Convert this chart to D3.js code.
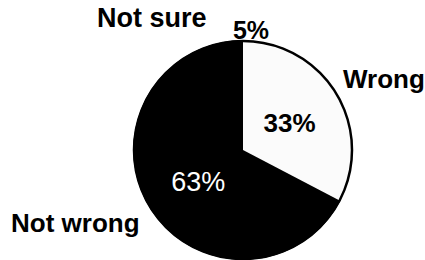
<!DOCTYPE html>
<html>
<head>
  <meta charset="utf-8">
  <title>Not wrong / Wrong / Not sure</title>
  <script src="https://d3js.org/d3.v7.min.js"></script>
  <style>
    body { margin: 0; background: #fff; }
    svg { display: block; }
    text { font-family: "Liberation Sans", Arial, Helvetica, sans-serif; }
  </style>
</head>
<body>
  <div id="chart"></div>
  <script>
    // data (values add to 101 because of rounding)
    var categories = ["Wrong", "Not wrong", "Not sure"];
    var values = [33, 63, 5];
    var valueLabels = ["33%", "63%", "5%"];

    var width = 425, height = 260;
    var cx = 243, cy = 150, radius = 109;

    var svg = d3.select("#chart")
      .append("svg")
        .attr("width", width)
        .attr("height", height);

    var g = svg.append("g")
        .attr("transform", "translate(" + cx + "," + cy + ")");

    var color = d3.scaleOrdinal()
      .domain(categories)
      .range(["#fbfbfb", "#000000", "#000000"]);

    var pie = d3.pie().sort(null).value(function(d) { return d.value; });
    var arc = d3.arc().innerRadius(0).outerRadius(radius);

    var rows = categories.map(function(c, i) {
      return { name: c, value: values[i], label: valueLabels[i] };
    });
    var arcs = pie(rows);

    // slices - black ones first with a stroke so no seam shows, light one on top
    g.selectAll("path.slice")
      .data(arcs.slice().reverse())
      .enter()
      .append("path")
        .attr("class", "slice")
        .attr("d", arc)
        .attr("fill", function(d) { return color(d.data.name); })
        .attr("stroke", function(d) { return d.data.name == "Wrong" ? "none" : "#000"; })
        .attr("stroke-width", 1.5);

    // outer rim
    g.append("circle")
      .attr("r", radius)
      .attr("fill", "none")
      .attr("stroke", "#000")
      .attr("stroke-width", 2.5);

    // percentages inside the two big slices
    g.append("text")
      .attr("x", arc.centroid(arcs[0])[0])
      .attr("y", arc.centroid(arcs[0])[1] + 10)
      .attr("text-anchor", "middle")
      .attr("font-size", 26)
      .attr("font-weight", "bold")
      .attr("fill", "#000")
      .text(arcs[0].data.label);

    g.append("text")
      .attr("x", arc.centroid(arcs[1])[0] - 3)
      .attr("y", arc.centroid(arcs[1])[1] + 6)
      .attr("text-anchor", "middle")
      .attr("font-size", 27)
      .attr("fill", "#fff")
      .text(arcs[1].data.label);

    // 5% sits just above the rim
    g.append("text")
      .attr("x", 8)
      .attr("y", -radius - 2)
      .attr("text-anchor", "middle")
      .attr("font-size", 25)
      .attr("font-weight", "bold")
      .text(arcs[2].data.label);

    // category names around the pie
    var names = svg.append("g")
      .attr("font-size", 26)
      .attr("font-weight", "bold")
      .attr("fill", "#000");

    names.append("text").attr("x", 97).attr("y", 27).attr("font-size", 27).text(categories[2]);
    names.append("text").attr("x", 343).attr("y", 88).attr("font-size", 26).text(categories[0]);
    names.append("text").attr("x", 11).attr("y", 232).text(categories[1]);
  </script>
</body>
</html>
